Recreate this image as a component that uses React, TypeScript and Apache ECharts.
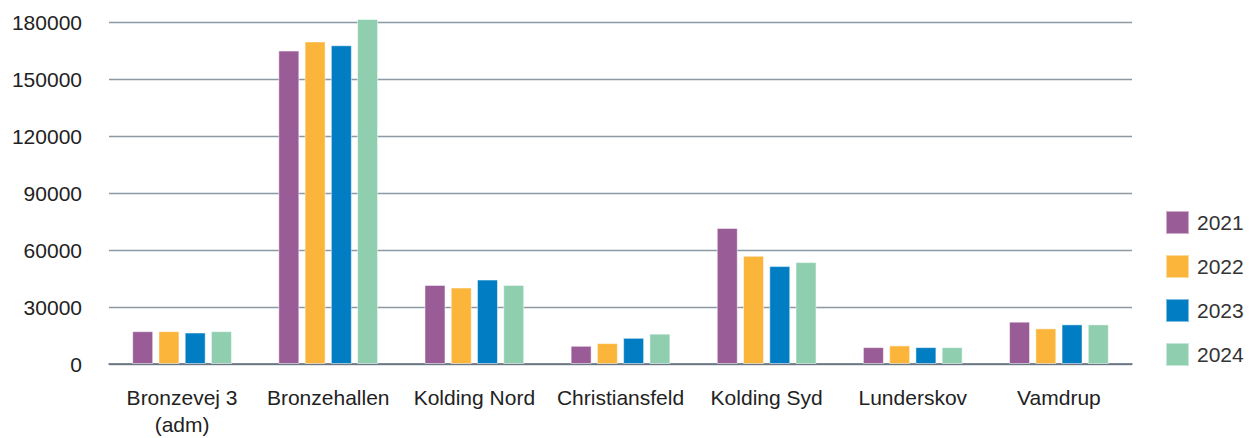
import React, { useEffect, useRef } from "react";
import * as echarts from "echarts";

const categories = ["Bronzevej 3\n(adm)", "Bronzehallen", "Kolding Nord", "Christiansfeld", "Kolding Syd", "Lunderskov", "Vamdrup"];
const years = ["2021", "2022", "2023", "2024"];
const values2021 = [17300, 165200, 41700, 9600, 71700, 8900, 22300];
const values2022 = [17300, 170000, 40300, 11000, 57000, 9800, 18800];
const values2023 = [16600, 168000, 44500, 13800, 51600, 8900, 20900];
const values2024 = [17300, 181900, 41700, 16000, 53700, 8900, 20900];
const seriesValues = [values2021, values2022, values2023, values2024];
const colors = ["#9a5c97", "#fbb53a", "#007dc3", "#8fcfb0"];

export default function App() {
  const ref = useRef<HTMLDivElement>(null);
  useEffect(() => {
    if (!ref.current) return;
    const chart = echarts.init(ref.current, undefined, { renderer: "svg" });
    const font = "'Liberation Sans', Helvetica, Arial, sans-serif";
    chart.setOption({
      animation: false,
      grid: { left: 109, right: 117, top: 22.5, bottom: 60, containLabel: false },
      legend: {
        orient: "vertical",
        left: 1165,
        top: 210,
        padding: 0,
        itemWidth: 23,
        itemHeight: 23,
        itemGap: 19,
        icon: "rect",
        data: years,
        textStyle: { fontSize: 21, color: "#333", fontFamily: font, padding: [0, 0, 0, 3] },
      },
      xAxis: {
        type: "category",
        data: categories,
        axisLine: { lineStyle: { color: "#5f6b77", width: 1.5 } },
        axisTick: { show: false },
        axisLabel: { fontSize: 21, color: "#222", fontFamily: font, margin: 20, lineHeight: 27, interval: 0 },
      },
      yAxis: {
        type: "value",
        min: 0,
        max: 180000,
        interval: 30000,
        axisLine: { show: false },
        axisTick: { show: false },
        axisLabel: { fontSize: 21, color: "#222", fontFamily: font, margin: 27, formatter: (v: number) => String(v) },
        splitLine: { lineStyle: { color: "#8d99a3", width: 1.3 } },
      },
      series: years.map((y, i) => ({
        name: y,
        type: "bar",
        clip: false,
        data: seriesValues[i],
        barWidth: 21,
        barGap: "25%",
        itemStyle: { color: colors[i], borderColor: "rgba(255,255,255,0.5)", borderWidth: 1 },
      })),
    });
    return () => chart.dispose();
  }, []);
  return <div ref={ref} style={{ position: "absolute", left: 0, top: 0, width: 1249, height: 438 }} />;
}
